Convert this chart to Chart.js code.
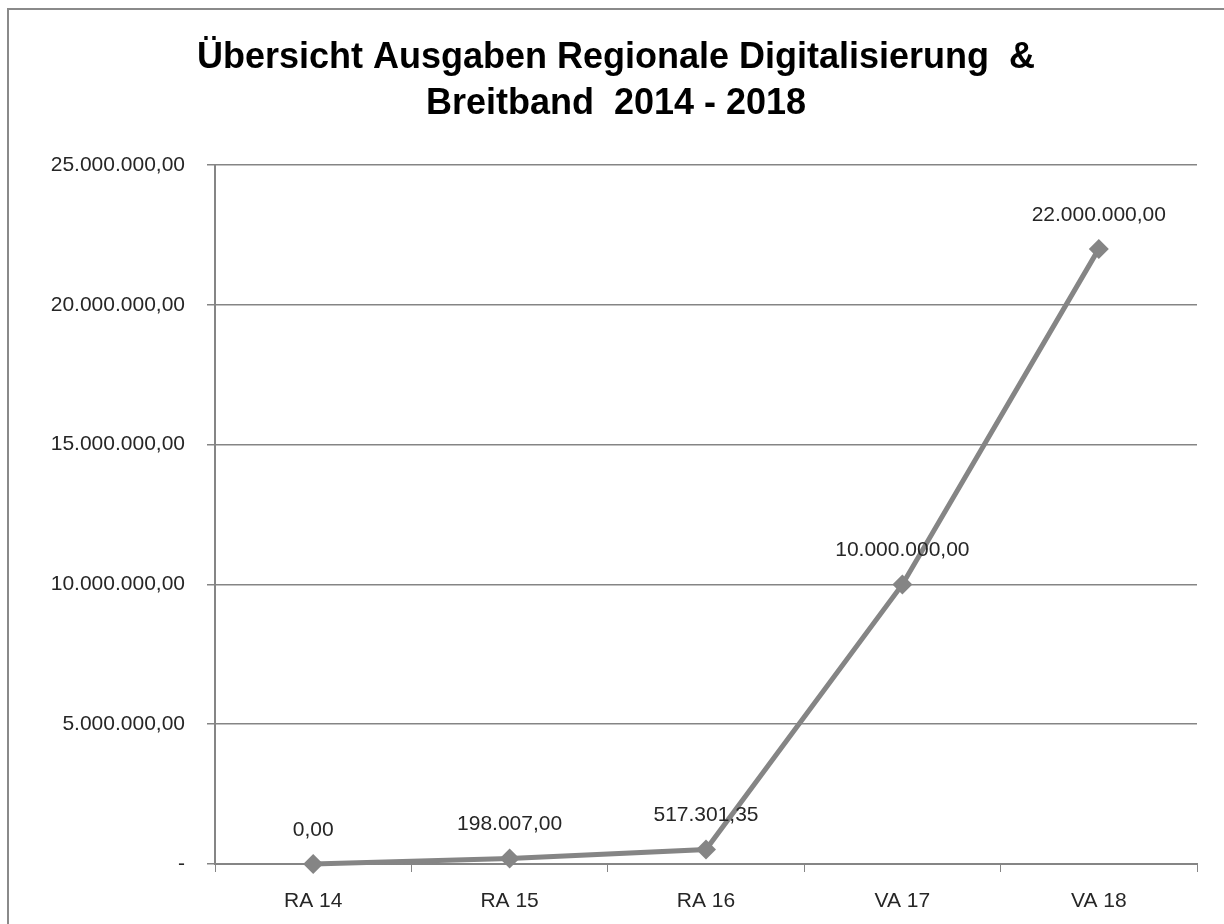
<!DOCTYPE html>
<html>
<head>
<meta charset="utf-8">
<script src="https://cdn.jsdelivr.net/npm/chart.js@4/dist/chart.umd.min.js"></script>
<style>
  html, body { margin: 0; padding: 0; background: #fff; }
  #wrap { position: absolute; left: 0; top: 0; width: 1224px; height: 924px; }
</style>
</head>
<body>
<div id="wrap"><canvas id="chart"></canvas></div>
<script>
const categories = ['RA 14', 'RA 15', 'RA 16', 'VA 17', 'VA 18'];
const ausgaben = [0, 198007, 517301.35, 10000000, 22000000];
const titleLines = ['Übersicht Ausgaben Regionale Digitalisierung  &', 'Breitband  2014 - 2018'];

const textColor = '#262626';
const lineColor = '#858585';
const font = '"Liberation Sans", Arial, sans-serif';

// German number format: 1.234.567,89
function fmtDE(v) {
    const parts = v.toFixed(2).split('.');
    parts[0] = parts[0].replace(/\B(?=(\d{3})+(?!\d))/g, '.');
    return parts[0] + ',' + parts[1];
}

// outer frame + title (Excel puts the title centred on the whole chart box)
const framePlugin = {
    id: 'frame',
    beforeDraw(chart) {
        const ctx = chart.ctx;
        ctx.save();
        ctx.fillStyle = '#fff';
        ctx.fillRect(0, 0, chart.width, chart.height);
        ctx.strokeStyle = '#8a8a8a';
        ctx.lineWidth = 2;
        ctx.strokeRect(8, 9, 1400, 1100);

        ctx.font = 'bold 36px ' + font;
        ctx.fillStyle = '#000';
        ctx.textAlign = 'center';
        ctx.textBaseline = 'middle';
        titleLines.forEach((t, i) => ctx.fillText(t, 616, 58 + i * 46));
        ctx.restore();
    }
};

// value labels above each point
const labelPlugin = {
    id: 'valueLabels',
    afterDatasetsDraw(chart) {
        const ctx = chart.ctx;
        const meta = chart.getDatasetMeta(0);
        ctx.save();
        ctx.font = '21px ' + font;
        ctx.fillStyle = textColor;
        ctx.textAlign = 'center';
        ctx.textBaseline = 'middle';
        meta.data.forEach((pt, i) => {
            ctx.fillText(fmtDE(ausgaben[i]), pt.x, pt.y - 34);
        });
        ctx.restore();
    }
};

new Chart(document.getElementById('chart'), {
    type: 'line',
    data: {
        labels: categories,
        datasets: [{
            data: ausgaben,
            borderColor: lineColor,
            backgroundColor: lineColor,
            borderWidth: 5,
            pointStyle: 'rectRot',
            pointRadius: 10,
            pointBorderWidth: 0,
            tension: 0,
            clip: false
        }]
    },
    options: {
        responsive: true,
        maintainAspectRatio: false,
        animation: false,
        layout: { padding: { top: 165, right: 27, bottom: 0, left: 0 } },
        plugins: {
            legend: { display: false },
            tooltip: { enabled: false },
            title: { display: false }
        },
        scales: {
            x: {
                offset: true,
                grid: { offset: true, drawOnChartArea: false, color: lineColor, tickLength: 8 },
                border: { color: lineColor, width: 2 },
                ticks: { color: textColor, font: { family: font, size: 21 }, padding: 17 },
                afterFit(scale) { scale.height = 60; }
            },
            y: {
                min: 0,
                max: 25000000,
                ticks: {
                    stepSize: 5000000,
                    color: textColor,
                    font: { family: font, size: 21 },
                    padding: 22,
                    callback: v => v === 0 ? '-' : fmtDE(v)
                },
                grid: { color: lineColor, lineWidth: 1.5, tickLength: 8 },
                border: { color: lineColor, width: 2 },
                afterFit(scale) { scale.width = 215; }
            }
        }
    },
    plugins: [framePlugin, labelPlugin]
});
</script>
</body>
</html>
